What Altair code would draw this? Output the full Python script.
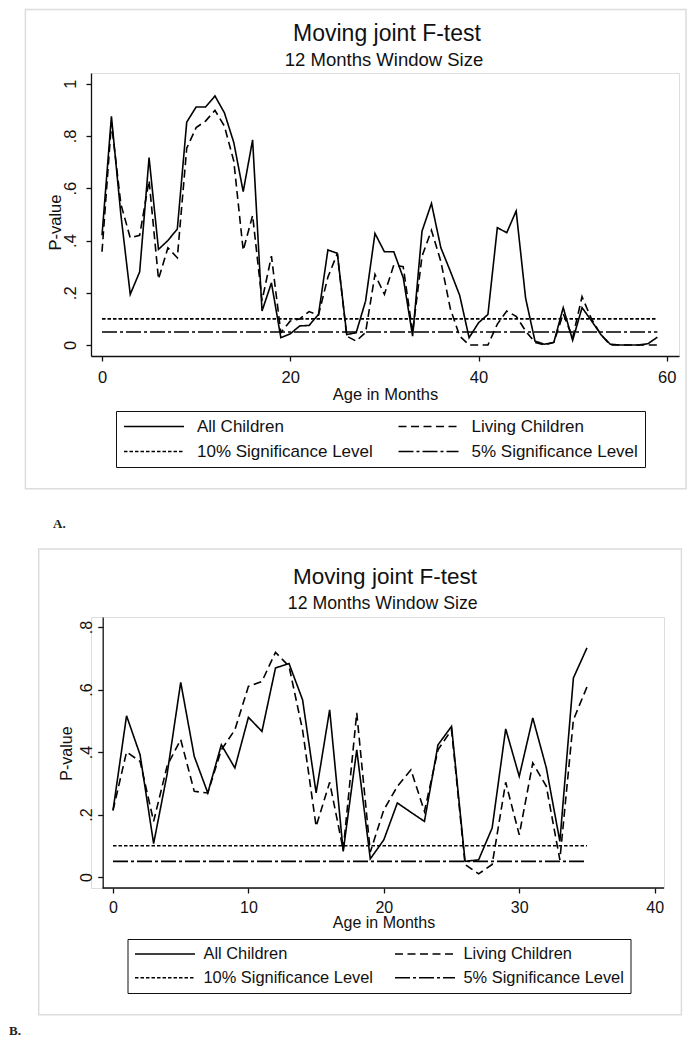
import altair as alt
import pandas as pd

# ---------------- data ----------------
months_a = list(range(60))
all_children_a = [0.42, 0.875, 0.50, 0.194, 0.28, 0.717, 0.366, 0.40, 0.444, 0.853,
                  0.911, 0.911, 0.953, 0.889, 0.775, 0.587, 0.785, 0.13, 0.238, 0.028,
                  0.043, 0.073, 0.075, 0.117, 0.364, 0.351, 0.04, 0.047, 0.168, 0.427,
                  0.357, 0.357, 0.258, 0.034, 0.436, 0.542, 0.372, 0.283, 0.19, 0.028,
                  0.085, 0.117, 0.449, 0.43, 0.513, 0.18, 0.015, 0.003, 0.01, 0.143,
                  0.018, 0.143, 0.093, 0.04, 0.003, 0.0, 0.0, 0.0, 0.005, 0.03]
living_children_a = [0.357, 0.85, 0.54, 0.41, 0.42, 0.63, 0.252, 0.372, 0.334, 0.753,
                     0.832, 0.857, 0.898, 0.838, 0.704, 0.362, 0.496, 0.17, 0.34, 0.047,
                     0.092, 0.10, 0.128, 0.115, 0.26, 0.35, 0.034, 0.015, 0.048, 0.27,
                     0.194, 0.306, 0.30, 0.048, 0.34, 0.439, 0.32, 0.14, 0.034, 0.0,
                     0.0, 0.0, 0.08, 0.13, 0.11, 0.054, 0.01, 0.0, 0.01, 0.12,
                     0.028, 0.185, 0.10, 0.04, 0.0, 0.0, 0.0, 0.0, 0.0, 0.0]

months_b = list(range(36))
all_children_b = [0.213, 0.516, 0.391, 0.107, 0.33, 0.623, 0.386, 0.269, 0.423, 0.349,
                  0.511, 0.466, 0.669, 0.683, 0.567, 0.269, 0.535, 0.082, 0.407, 0.058,
                  0.119, 0.237, 0.207, 0.178, 0.423, 0.482, 0.05, 0.055, 0.157, 0.474,
                  0.322, 0.509, 0.349, 0.114, 0.637, 0.733]
living_children_b = [0.213, 0.40, 0.37, 0.178, 0.356, 0.44, 0.274, 0.269, 0.407, 0.471,
                     0.61, 0.626, 0.719, 0.674, 0.47, 0.162, 0.303, 0.087, 0.525, 0.08,
                     0.215, 0.29, 0.343, 0.21, 0.407, 0.471, 0.04, 0.01, 0.04, 0.303,
                     0.135, 0.365, 0.29, 0.055, 0.503, 0.608]

series_names = ["All Children", "Living Children",
                "10% Significance Level", "5% Significance Level"]
sig_levels = [0.10, 0.05]

x_ticks_a = [0, 20, 40, 60]
y_ticks_a = [0, 0.2, 0.4, 0.6, 0.8, 1.0]
x_ticks_b = [0, 10, 20, 30, 40]
y_ticks_b = [0, 0.2, 0.4, 0.6, 0.8]

title_text = "Moving joint F-test"
subtitle_text = "12 Months Window Size"
x_title = "Age in Months"
y_title = "P-value"
panel_labels = ["A.", "B."]

dash_patterns = [[1, 0], [8, 4.5], [3.5, 2], [15, 3, 3, 3]]

FONT = "Liberation Sans"
SERIF = "Liberation Serif"
INK = "#111"


def build_frame(months, all_vals, living_vals):
    rows = []
    for m, v in zip(months, all_vals):
        rows.append({"month": m, "p": v, "series": series_names[0]})
    for m, v in zip(months, living_vals):
        rows.append({"month": m, "p": v, "series": series_names[1]})
    for level, name in zip(sig_levels, series_names[2:]):
        rows.append({"month": months[0], "p": level, "series": name})
        rows.append({"month": months[-1], "p": level, "series": name})
    return pd.DataFrame(rows)


one_row = pd.DataFrame({"k": [0]})


def panel(df, p, label):
    W, H = p["W"], p["H"]
    axis_common = dict(domainColor=INK, domainWidth=1.3, tickColor=INK,
                       tickWidth=1.3, tickSize=5, labelColor=INK, titleColor=INK,
                       labelFont=FONT, titleFont=FONT, titleFontWeight="normal",
                       grid=False, labelFlush=False, labelOverlap=False,
                       labelFontSize=p["fs"], titleFontSize=p["fs"])
    x_axis = alt.Axis(values=p["xticks"], title=x_title, format="d",
                      labelPadding=p["xlp"], titleX=p["xtx"], titleY=p["xty"],
                      titleAlign="center", titleBaseline="alphabetic",
                      domain=p["xdomain_line"], **axis_common)
    y_axis = alt.Axis(values=p["yticks"], title=y_title,
                      labelExpr="datum.value == 0 ? '0' : datum.value >= 1 ? '1' : '.' + round(datum.value * 10)",
                      labelAngle=270, labelAlign="center", labelBaseline="alphabetic",
                      labelPadding=p["ylp"], titleAngle=270, titleX=p["ytx"],
                      titleY=p["yty"], titleAlign="center", titleBaseline="alphabetic",
                      offset=p["yoff"], **axis_common)
    legend = alt.Legend(title=None, orient="none", legendX=p["lx"], legendY=p["ly"],
                        columns=2, direction="horizontal", symbolType="stroke", symbolSize=3600,
                        symbolStrokeWidth=1.5, symbolStrokeColor="black",
                        clipHeight=p["lfs"],
                        labelFont=FONT, labelFontSize=p["lfs"], labelColor=INK,
                        labelOffset=p["loff"], columnPadding=p["cpad"],
                        rowPadding=p["rpad"], padding=p["lpad"], strokeColor=INK,
                        labelLimit=400)
    xscale = alt.Scale(domain=p["xdom"], nice=False, zero=False)
    yscale = alt.Scale(domain=p["ydom"], nice=False, zero=False)
    lines = alt.Chart(df).mark_line(color="black", strokeWidth=1.6).encode(
        x=alt.X("month:Q", scale=xscale, axis=x_axis),
        y=alt.Y("p:Q", scale=yscale, axis=y_axis),
        strokeDash=alt.StrokeDash("series:N",
                                  scale=alt.Scale(domain=series_names, range=dash_patterns),
                                  legend=legend),
    )
    layers = []
    fx0, fx1, fy0, fy1 = p["frame"]
    layers.append(alt.Chart(one_row).mark_rect(opacity=0).encode(
        x=alt.value(fx0), x2=alt.value(fx1), y=alt.value(fy0), y2=alt.value(fy1)))
    cx0, cx1, cy0, cy1 = p["card"]
    layers.append(alt.Chart(one_row).mark_rect(fillOpacity=0, stroke="#dcdcdc", strokeWidth=1.5).encode(
        x=alt.value(cx0), x2=alt.value(cx1), y=alt.value(cy0), y2=alt.value(cy1)))
    layers.append(lines)
    if not p["xdomain_line"]:
        # x-axis line drawn over the axis extent only (from the y-axis to the right end)
        layers.append(alt.Chart(one_row).mark_rule(color=INK, strokeWidth=1.3).encode(
            x=alt.datum(p["xline"][0]), x2=alt.datum(p["xline"][1]), y=alt.value(H)))
    layers.append(alt.Chart(one_row).mark_text(text=title_text, font=FONT, fontSize=p["tfs"],
                                               align="center", baseline="alphabetic", color=INK).encode(
        x=alt.value(p["tx"]), y=alt.value(p["ty"])))
    layers.append(alt.Chart(one_row).mark_text(text=subtitle_text, font=FONT, fontSize=p["sfs"],
                                               align="center", baseline="alphabetic", color=INK).encode(
        x=alt.value(p["sx"]), y=alt.value(p["sy"])))
    layers.append(alt.Chart(one_row).mark_text(text=label, font=SERIF, fontSize=13, fontWeight="bold",
                                               align="left", baseline="alphabetic", color="#222").encode(
        x=alt.value(p["px"]), y=alt.value(p["py"])))
    return alt.layer(*layers).properties(width=W, height=H)


# panel A: plot origin at page (90, 72); panel B: plot origin at page (90, 614)
params_a = dict(W=588, H=283, xdom=[-1.17, 61.3], ydom=[-0.042, 1.041],
                xticks=x_ticks_a, yticks=y_ticks_a, fs=16.5, xlp=8, xtx=294, xty=43.2,
                xdomain_line=True, xline=None, yoff=0,
                ylp=11, ytx=-30.6, yty=149,
                lx=25, ly=338, lfs=17, loff=12, cpad=24.5, rpad=7, lpad=7,
                frame=[-82, 596, -64, 458], card=[-65.6, 595, -63.5, 415.7],
                tfs=23, tx=296, ty=-32, sfs=18.5, sx=293, sy=-7,
                px=-38, py=454.5)
params_b = dict(W=573, H=271, xdom=[-1.625, 40.69], ydom=[-0.0352, 0.832],
                xticks=x_ticks_b, yticks=y_ticks_b, fs=16, xlp=6, xtx=292.5, xty=39.7,
                xdomain_line=False, xline=[-0.76, 40.69], yoff=-11.7,
                ylp=6.3, ytx=-31.3, yty=136,
                lx=36.5, ly=322, lfs=16.4, loff=7.5, cpad=21, rpad=7, lpad=6.5,
                frame=[-82, 596, -84, 420], card=[-52.3, 590.4, -68, 397.7],
                tfs=22.5, tx=294, ty=-33, sfs=17.7, sx=291.7, sy=-8,
                px=-82, py=418)

panel_a = panel(build_frame(months_a, all_children_a, living_children_a), params_a, panel_labels[0])
panel_b = panel(build_frame(months_b, all_children_b, living_children_b), params_b, panel_labels[1])

chart = alt.vconcat(panel_a, panel_b, spacing=0).resolve_scale(
    x="independent", y="independent", strokeDash="independent"
).resolve_legend(strokeDash="independent").properties(
    padding={"left": 0, "top": 0, "right": 0, "bottom": 0}
).configure_view(strokeWidth=0).configure(background="white")

chart.save("out.html", embed_options={"renderer": "svg", "actions": False})
